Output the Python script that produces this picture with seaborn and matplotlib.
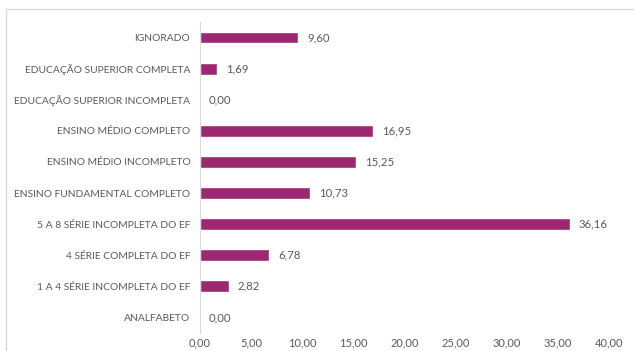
import matplotlib
matplotlib.use("Agg")
import matplotlib.pyplot as plt
import seaborn as sns
import pandas as pd
from matplotlib.patches import Rectangle

categorias = [
    "IGNORADO",
    "EDUCAÇÃO SUPERIOR COMPLETA",
    "EDUCAÇÃO SUPERIOR INCOMPLETA",
    "ENSINO MÉDIO COMPLETO",
    "ENSINO MÉDIO INCOMPLETO",
    "ENSINO FUNDAMENTAL COMPLETO",
    "5 A 8 SÉRIE INCOMPLETA DO EF",
    "4 SÉRIE COMPLETA DO EF",
    "1 A 4 SÉRIE INCOMPLETA DO EF",
    "ANALFABETO",
]
percentuais = [9.60, 1.69, 0.00, 16.95, 15.25, 10.73, 36.16, 6.78, 2.82, 0.00]
ticks_x = [0, 5, 10, 15, 20, 25, 30, 35, 40]

df = pd.DataFrame({"categoria": categorias, "valor": percentuais})

sns.set_theme(style="white")
plt.rcParams["font.family"] = ["Lato", "DejaVu Sans"]

W, H = 634, 351
fig = plt.figure(figsize=(W / 100, H / 100), dpi=100)
ax = fig.add_axes([200 / W, 1 - 333 / H, 409 / W, 311 / H])

cor = "#9B2870"
texto = "#595959"

sns.barplot(data=df, x="valor", y="categoria", orient="h", color=cor,
            width=0.38, saturation=1, ax=ax)

ax.set_xlim(0, 40)
ax.set_ylim(len(categorias) - 0.5, -0.5)
ax.set_xticks(ticks_x)
ax.set_xticklabels([f"{t:.2f}".replace(".", ",") for t in ticks_x])
ax.set_xlabel("")
ax.set_ylabel("")
ax.tick_params(axis="both", length=0, labelcolor=texto)
ax.tick_params(axis="x", pad=3, labelsize=8)
ax.tick_params(axis="y", pad=7, labelsize=7.4)

for s in ["top", "right", "bottom"]:
    ax.spines[s].set_visible(False)
ax.spines["left"].set_color("#d9d9d9")
ax.spines["left"].set_linewidth(0.8)

for i, v in enumerate(percentuais):
    ax.annotate(f"{v:.2f}".replace(".", ","), xy=(v, i), xytext=(6.5, 0),
                textcoords="offset points", va="center", ha="left",
                fontsize=8.2, color=texto)

# moldura da área do gráfico
fig.patches.append(Rectangle((6 / W, -0.05), 1.05, 1 - 9 / H + 0.05,
                             transform=fig.transFigure, fill=False,
                             edgecolor="#d9d9d9", linewidth=1.0))

fig.savefig("out.png", dpi=100)
